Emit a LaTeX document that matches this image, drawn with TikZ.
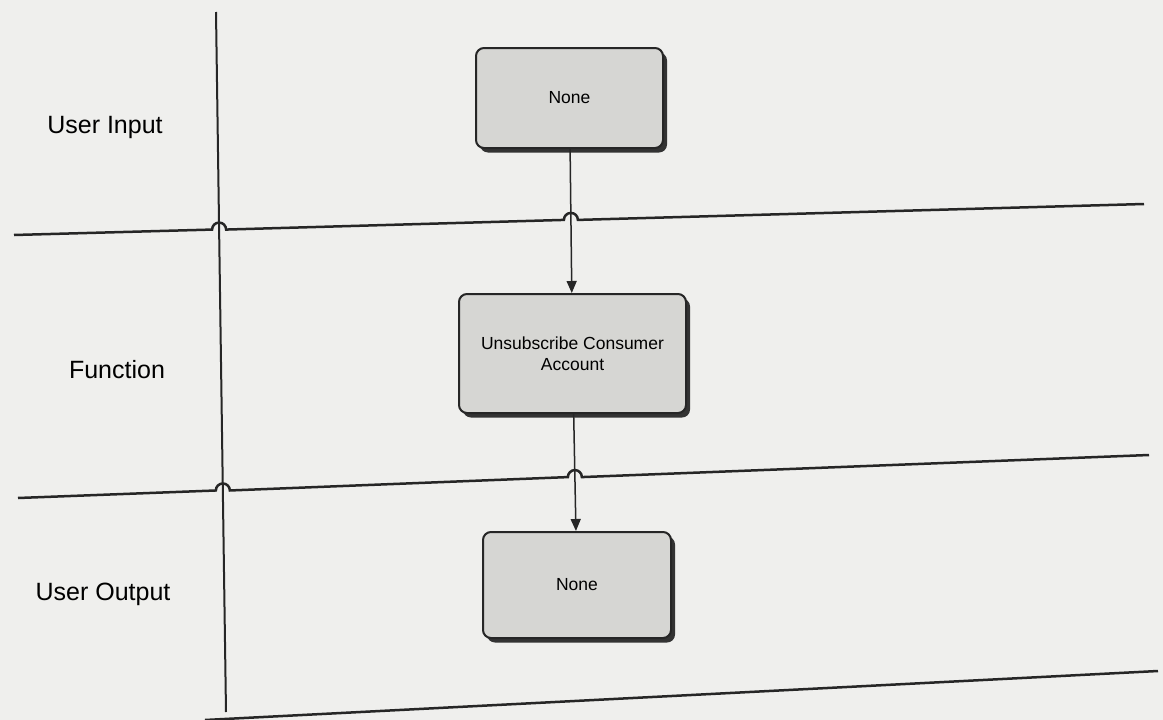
\documentclass[tikz,border=0pt]{standalone}
\usepackage{fontspec}
\setmainfont{Liberation Sans}
\usetikzlibrary{arrows.meta,positioning,calc,shadows}
\definecolor{paper}{RGB}{239,239,237}
\definecolor{boxgray}{RGB}{214,214,211}

\begin{document}
\begin{tikzpicture}[x=1pt, y=-1pt,
    lane/.style={line width=2.5pt, black!85},
    stepbox/.style={draw=black!85, line width=2pt, fill=boxgray, rounded corners=8pt,
      inner sep=0pt, align=center, font=\fontsize{17.5}{21}\selectfont,
      drop shadow={shadow xshift=4pt, shadow yshift=-4.5pt, fill=black!80, opacity=1}},
    flow/.style={line width=1.5pt, black!85, -{Triangle[width=10pt,length=12pt]}},
    lanelabel/.style={font=\fontsize{25}{30}\selectfont}]
  \fill[paper] (0,0) rectangle (1163,720);
  \useasboundingbox (0,0) rectangle (1163,720);

  % lane names
  \node[lanelabel] (input) at (105,127) {User Input};
  \node[lanelabel] (func) at (117,370) {Function};
  \node[lanelabel] (output) at (103,594) {User Output};

  % steps
  \node[stepbox, minimum width=187pt, minimum height=100pt] (none1) at (569.5,98) {None};
  \node[stepbox, minimum width=227pt, minimum height=119pt] (unsub) at (572.5,353.5) {Unsubscribe Consumer\\Account};
  \node[stepbox, minimum width=188pt, minimum height=106pt] (none2) at (577,585) {None};

  % lane borders
  \coordinate (sep) at (216,12);
  \coordinate (sepend) at (226,712);
  \coordinate (a1) at (14,235);
  \coordinate (b1) at (1144,204);
  \coordinate (a2) at (18,498);
  \coordinate (b2) at (1149,455);
  \coordinate (a3) at (205,720);
  \coordinate (b3) at (1158,671);

  \draw[lane, line width=2pt] (sep) -- (sepend);
  \draw[flow] (none1) -- (unsub);
  \draw[flow] (unsub) -- (none2);

  % line hops
  \coordinate (x11) at (intersection of a1--b1 and sep--sepend);
  \coordinate (x12) at (intersection of a1--b1 and none1--unsub);
  \coordinate (x21) at (intersection of a2--b2 and sep--sepend);
  \coordinate (x22) at (intersection of a2--b2 and unsub--none2);

  \draw[lane] (a1) -- ($(x11)!7pt!(a1)$) arc[start angle=180, end angle=0, radius=7pt]
    -- ($(x12)!7pt!(a1)$) arc[start angle=180, end angle=0, radius=7pt] -- (b1);
  \draw[lane] (a2) -- ($(x21)!7pt!(a2)$) arc[start angle=180, end angle=0, radius=7pt]
    -- ($(x22)!7pt!(a2)$) arc[start angle=180, end angle=0, radius=7pt] -- (b2);
  \draw[lane] (a3) -- (b3);
\end{tikzpicture}
\end{document}
